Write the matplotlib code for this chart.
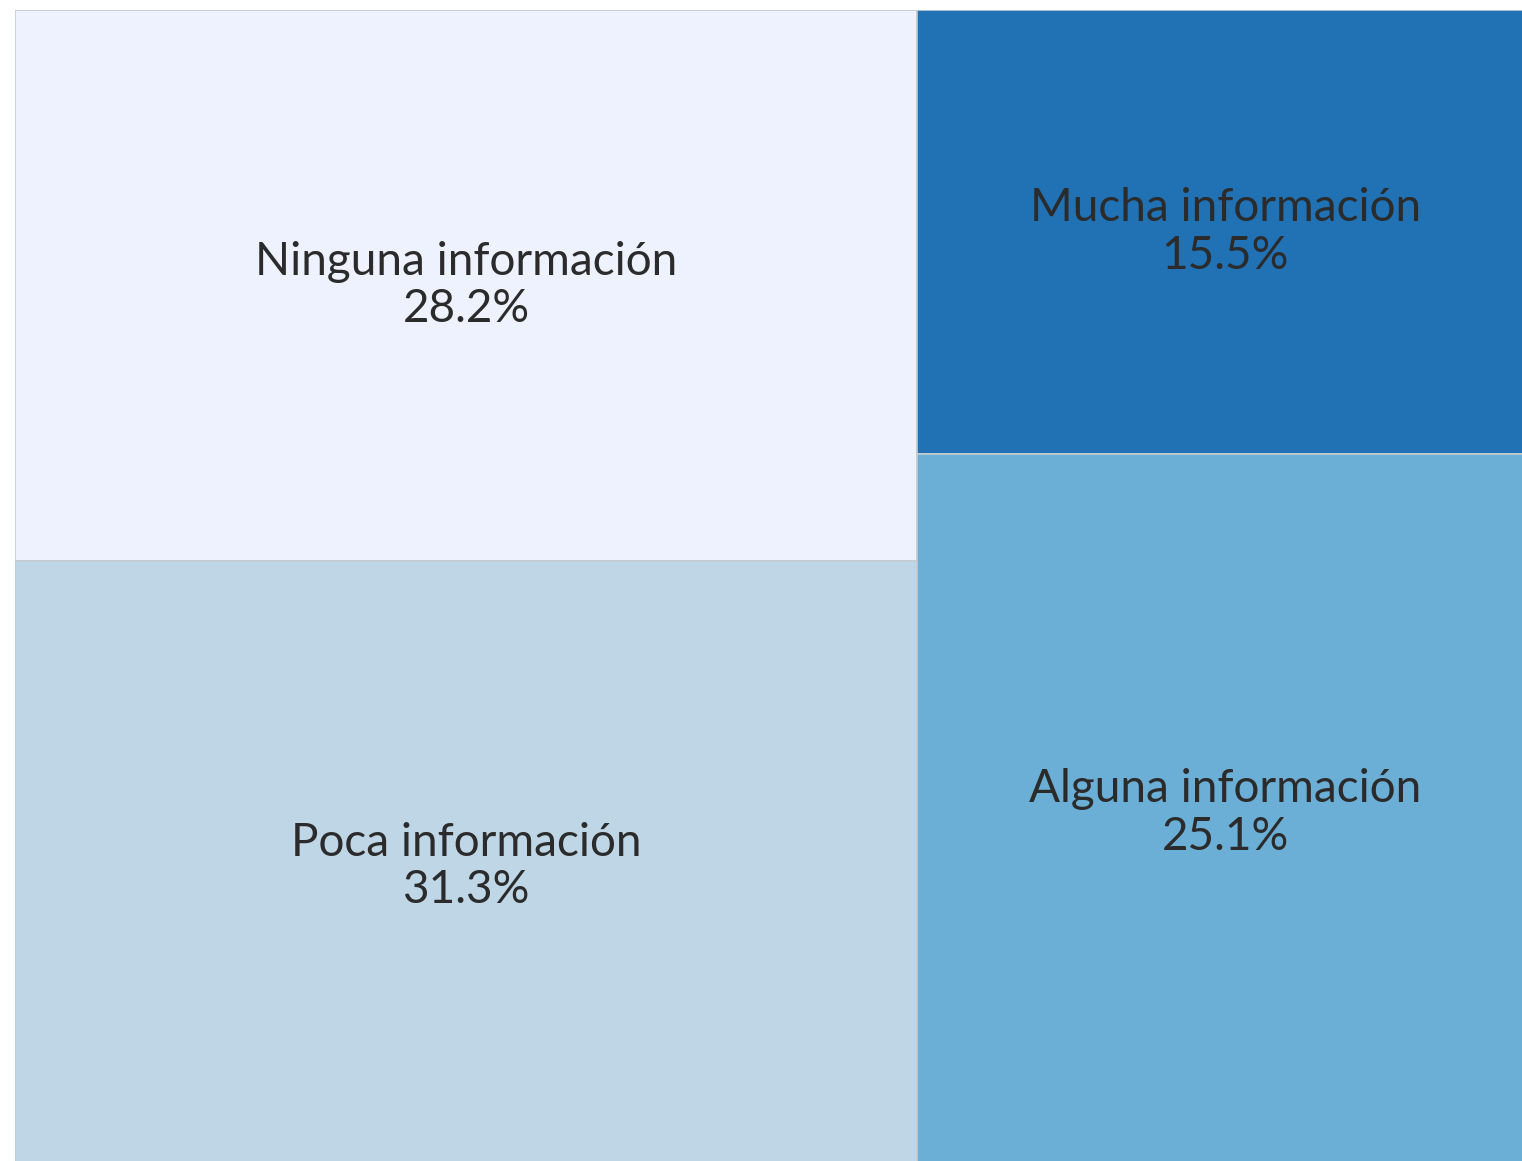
import matplotlib.pyplot as plt
from matplotlib.patches import Rectangle

# treemap data: two columns, each with a top and bottom block
labels = ['Ninguna información', 'Poca información', 'Mucha información', 'Alguna información']
values = [28.2, 31.3, 15.5, 25.1]
colors = ['#eef2ff', '#bed6e6', '#2171b5', '#6baed6']
column = [0, 0, 1, 1]

fig = plt.figure(figsize=(15.22, 11.61), dpi=100)
# the chart runs a little past the right and bottom edge of the picture
ax = fig.add_axes([15 / 1522, -11 / 1161, 1518 / 1522, 1162 / 1161])
total = sum(values)
ax.set_xlim(0, total)
ax.set_ylim(0, 1)
ax.axis('off')

x0 = 0
for col in (0, 1):
    idx = [i for i in range(len(values)) if column[i] == col]
    colsum = sum(values[i] for i in idx)
    top = 1.0
    for i in idx:
        h = values[i] / colsum
        ax.add_patch(Rectangle((x0, top - h), colsum, h, facecolor=colors[i],
                               edgecolor='#c5ccd4', linewidth=1.2))
        ax.text(x0 + colsum / 2, top - h / 2, f'{labels[i]}\n{values[i]}%',
                ha='center', va='center', fontsize=33, family='Lato',
                color='#2b2b2b', linespacing=1.16)
        top -= h
    x0 += colsum

fig.savefig('out.png', dpi=100)
